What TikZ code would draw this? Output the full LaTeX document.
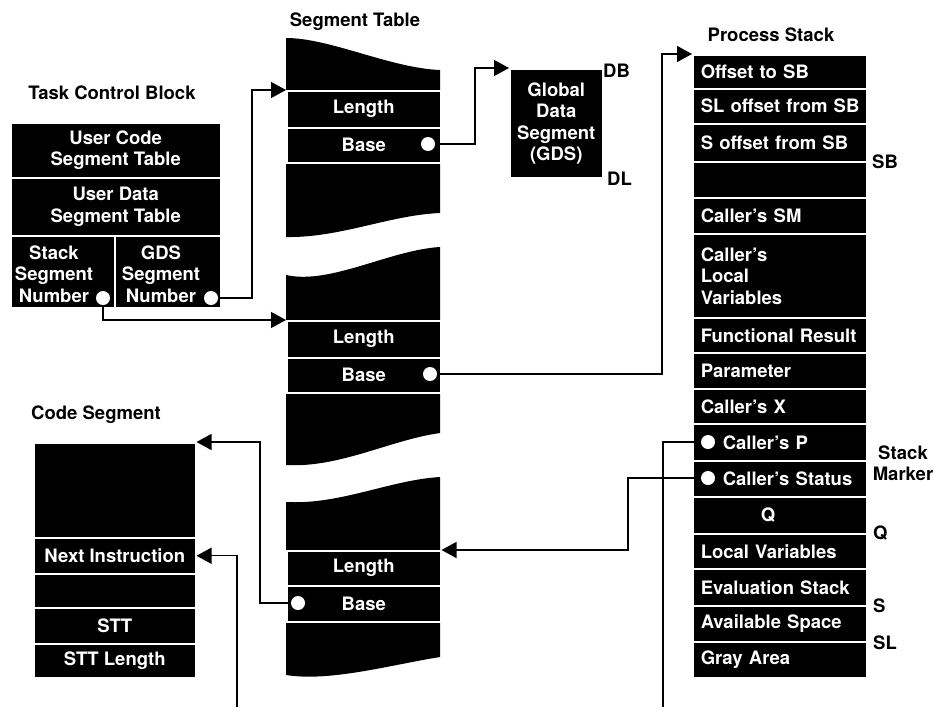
\documentclass[tikz,border=0pt]{standalone}
\usepackage{fontspec}
\setmainfont{TeX Gyre Heros}
\usetikzlibrary{arrows.meta}
\tikzset{
  base/.style={font=\bfseries\fontsize{18.5}{21.5}\selectfont},
  cellc/.style={base, fill=black, draw=white, line width=1.5pt, text=white, inner sep=0pt, anchor=north west, align=center},
  psl/.style={cellc, align=left, text width=158pt, inner xsep=8pt},
  conn/.style={line width=1.3pt},
  arr/.style={conn, -{Triangle[length=15pt,width=16pt]}},
  dot/.style={circle, fill=white, draw=none, minimum size=14pt, inner sep=0pt},
  wlab/.style={base, text=white},
  lab/.style={base, text=black, inner sep=0pt},
}
\newcommand\mycell[6]{\node[cellc, minimum width={(#4-#2)*1pt}, minimum height={(#5-#3)*1pt}] (#1) at (#2,#3) {#6};}
\newcommand\pscell[4]{\node[psl, minimum height={(#3-#2)*1pt}] (#1) at (692,#2) {#4};}
\begin{document}
\begin{tikzpicture}[x=1pt,y=-1pt]
\useasboundingbox (0,0) rectangle (933,707);

% ---------- Task Control Block ----------
\node[lab] (tTCB) at (112,93) {Task Control Block};
\mycell{tcb1}{10}{122}{220}{177}{User Code\\Segment Table}
\mycell{tcb2}{10}{177}{220}{235}{User Data\\Segment Table}
\mycell{tcb3}{10}{235}{114}{307}{}
\mycell{tcb4}{114}{235}{220}{307}{}
\node[wlab, align=center, inner sep=0pt] (tcb3t) at (54,274) {Stack\\Segment\\Number};
\node[wlab, align=center, inner sep=0pt] (tcb4t) at (161,274) {GDS\\Segment\\Number};

% ---------- Segment tables ----------
\node[lab] (tST) at (355,22) {Segment Table};
\fill (286,38) .. controls (330,38) and (390,68) .. (440,70) -- (440,213)
  .. controls (390,215) and (340,238) .. (286,237) -- cycle;
\fill (286,275) .. controls (330,285) and (390,250) .. (440,247) -- (440,433)
  .. controls (390,440) and (340,468) .. (286,465) -- cycle;
\fill (286,502) .. controls (340,505) and (390,480) .. (440,477) -- (440,657)
  .. controls (390,665) and (330,682) .. (286,675) -- cycle;
\mycell{st1len}{286}{90}{440}{127}{Length}
\mycell{st1base}{286}{127}{440}{162}{Base}
\mycell{st2len}{286}{320}{440}{357}{Length}
\mycell{st2base}{286}{357}{440}{392}{Base}
\mycell{st3len}{286}{550}{440}{585}{Length}
\mycell{st3base}{286}{585}{440}{621}{Base}

% ---------- GDS ----------
\mycell{gds}{509}{68}{602}{177}{Global\\Data\\Segment\\(GDS)}
\node[lab, anchor=west] (lDB) at (603,71) {DB};
\node[lab, anchor=west] (lDL) at (607,179) {DL};

% ---------- Process Stack ----------
\node[lab] (tPS) at (771,35) {Process Stack};
\pscell{ps1}{54}{88}{Offset to SB}
\pscell{ps2}{88}{123}{\mbox{SL offset from SB}}
\pscell{ps3}{123}{161}{S offset from SB}
\pscell{ps4}{161}{197}{}
\pscell{ps5}{197}{233}{Caller's SM}
\pscell{ps6}{233}{317}{Caller's\\Local\\Variables}
\pscell{ps7}{317}{352}{Functional Result}
\pscell{ps8}{352}{388}{Parameter}
\pscell{ps9}{388}{423}{Caller's X}
\pscell{ps10}{423}{460}{\hspace*{22pt}Caller's P}
\pscell{ps11}{460}{496}{\hspace*{22pt}Caller's Status}
\pscell{ps12}{496}{533}{\hspace*{60pt}Q}
\pscell{ps13}{533}{568}{Local Variables}
\pscell{ps14}{568}{605}{Evaluation Stack}
\pscell{ps15}{605}{641}{Available Space}
\pscell{ps16}{641}{677}{Gray Area}
\node[lab, anchor=west] (lSB) at (872,162) {SB};
\node[lab, align=center] (lSM) at (903,463) {Stack\\Marker};
\node[lab, anchor=west] (lQ) at (873,533) {Q};
\node[lab, anchor=west] (lS) at (873,606) {S};
\node[lab, anchor=west] (lSL) at (873,643) {SL};

% ---------- Code Segment ----------
\node[lab] (tCS) at (96,415) {Code Segment};
\mycell{cs1}{33}{442}{195}{537}{}
\mycell{cs2}{33}{537}{195}{573}{Next Instruction}
\mycell{cs3}{33}{573}{195}{607}{}
\mycell{cs4}{33}{607}{195}{643}{STT}
\mycell{cs5}{33}{643}{195}{677}{STT Length}

% ---------- dot positions ----------
\coordinate (tcb3p) at (103,298);
\coordinate (tcb4p) at (211,298);
\coordinate (st1p) at (428,144);
\coordinate (st2p) at (430,374);
\coordinate (st3p) at (298,603);
\coordinate (ps10p) at (708,442);
\coordinate (ps11p) at (708,478);
\coordinate (bot1) at (663,707);
\coordinate (bot2) at (237,707);

% ---------- connectors ----------
\draw[arr] (tcb4p) -- ++(41,0) |- (st1len.north west);
\draw[arr] (tcb3p) |- (st2len.north west);
\draw[arr] (st1p) -- ++(47,0) |- (gds.north west);
\draw[arr] (st2p) -- ++(232,0) |- (ps1.north west);
\draw[arr] (ps11p) -- ++(-80,0) |- (st3len.north east);
\draw[conn] (ps10p) -| (bot1);
\draw[arr] (st3p) -- ++(-38,0) |- (cs1.north east);
\draw[arr] (bot2) |- (cs2.east);

% ---------- dots ----------
\node[dot] (tcb3dot) at (tcb3p) {};
\node[dot] (tcb4dot) at (tcb4p) {};
\node[dot] (st1dot) at (st1p) {};
\node[dot] (st2dot) at (st2p) {};
\node[dot] (st3dot) at (st3p) {};
\node[dot] (ps10dot) at (ps10p) {};
\node[dot] (ps11dot) at (ps11p) {};
\end{tikzpicture}
\end{document}
